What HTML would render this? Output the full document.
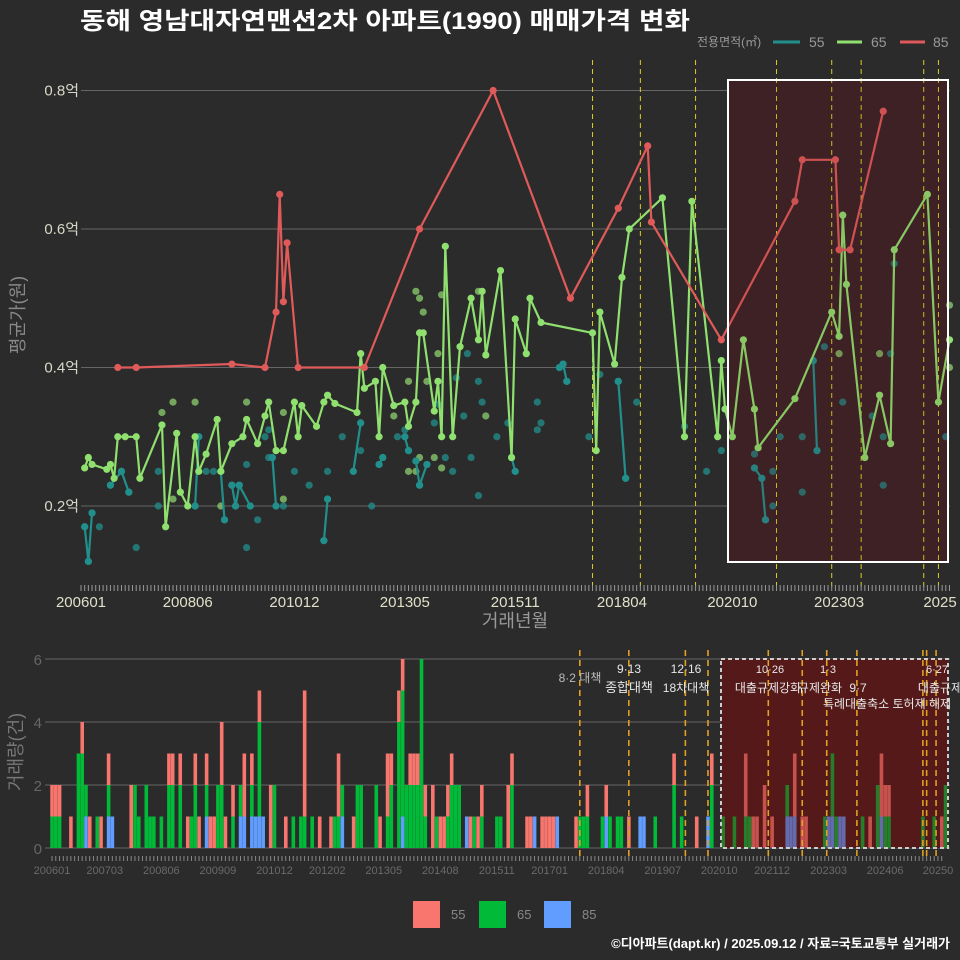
<!DOCTYPE html>
<html><head><meta charset="utf-8"><style>
html,body{margin:0;padding:0;background:#2b2b2b;}
svg{display:block;font-family:"Liberation Sans","Noto Sans CJK KR",sans-serif;}
</style></head><body>
<svg id="chart" width="960" height="960" viewBox="0 0 960 960" xmlns="http://www.w3.org/2000/svg">
<rect x="0" y="0" width="960" height="960" fill="#2b2b2b"/>
<text x="80" y="29" fill="#ffffff" font-size="24" font-weight="bold" textLength="610" lengthAdjust="spacingAndGlyphs">동해 영남대자연맨션2차 아파트(1990) 매매가격 변화</text>
<g font-size="14">
<text x="697" y="46" fill="#999" font-size="12">전용면적(㎡)</text>
<line x1="773" y1="42" x2="800" y2="42" stroke="#21908c" stroke-width="3"/>
<text x="809" y="47" fill="#999">55</text>
<line x1="837" y1="42" x2="862" y2="42" stroke="#90e070" stroke-width="3"/>
<text x="871" y="47" fill="#999">65</text>
<line x1="900" y1="42" x2="925" y2="42" stroke="#e05a5a" stroke-width="3"/>
<text x="933" y="47" fill="#999">85</text>
</g>
<g id="topg"></g>
<g id="botg"></g>
<g font-size="13">
<rect x="413" y="901" width="27" height="27" fill="#f8766d"/>
<text x="451" y="919" fill="#888">55</text>
<rect x="479" y="901" width="27" height="27" fill="#00ba38"/>
<text x="517" y="919" fill="#888">65</text>
<rect x="544" y="901" width="27" height="27" fill="#619cff"/>
<text x="582" y="919" fill="#888">85</text>
</g>
<text x="950" y="948" text-anchor="end" fill="#ffffff" font-size="13" font-weight="bold">©디아파트(dapt.kr) / 2025.09.12 / 자료=국토교통부 실거래가</text>
</svg>
<script>
const redMonths=[10,15,41,50,53,54,55,56,59,77,92,112,133,146,154,155,174,194,196,205,206,209,218];
const redVals=[0.40,0.40,0.405,0.40,0.48,0.65,0.495,0.58,0.40,0.40,0.60,0.80,0.50,0.63,0.72,0.61,0.44,0.64,0.70,0.70,0.57,0.57,0.77];
const greenMonths=[1,2,3,7,8,9,10,12,15,16,22,23,26,27,29,31,32,34,37,38,41,44,45,48,50,51,53,55,58,59,60,64,66,67,69,75,76,77,80,81,82,85,88,89,91,92,93,96,97,98,99,101,103,106,108,109,110,114,117,118,121,122,125,139,140,141,145,147,149,158,164,166,173,174,175,177,180,183,184,194,204,206,207,208,213,217,220,221,230,233,236];
const greenVals=[.255,.27,.26,.253,.26,.24,.30,.30,.30,.24,.317,.17,.305,.22,.20,.30,.25,.275,.325,.25,.29,.30,.325,.29,.33,.35,.28,.28,.35,.30,.345,.315,.35,.36,.348,.335,.42,.37,.38,.30,.40,.345,.35,.315,.35,.45,.45,.337,.38,.30,.575,.30,.43,.50,.44,.51,.418,.54,.27,.47,.42,.50,.465,.45,.28,.48,.405,.53,.60,.645,.30,.64,.30,.41,.34,.30,.44,.34,.284,.355,.48,.445,.62,.52,.27,.36,.29,.57,.65,.35,.44];
const greenDotMonths=[22,25,25,31,38,45,55,55,85,89,89,91,92,93,91,92,94,96,98,97,98,108,110,217,206,236,236];
const greenDotVals=[.335,.35,.21,.35,.20,.35,.335,.21,.33,.38,.25,.51,.50,.48,.25,.27,.38,.27,.255,.42,.505,.51,.33,.42,.42,.49,.40];
const tealLineMonths=[1,2,3,null,8,11,13,null,31,32,null,38,39,null,41,42,43,46,null,52,53,null,66,67,null,74,76,null,81,82,null,88,89,null,91,92,94,null,117,118,null,130,131,132,null,146,148,null,183,185,186,null,199,200];
const tealLineVals=[.17,.12,.19,null,.23,.25,.22,null,.20,.30,null,.25,.18,null,.23,.20,.23,.20,null,.27,.20,null,.15,.21,null,.25,.32,null,.26,.27,null,.30,.28,null,.265,.23,.26,null,.27,.25,null,.40,.405,.38,null,.38,.24,null,.255,.24,.18,null,.41,.28];
const tealDotMonths=[1,2,3,5,8,11,13,15,21,21,31,32,34,36,38,39,41,42,43,46,45,45,48,50,51,51,52,53,55,58,62,66,67,67,71,74,76,76,79,81,82,86,88,88,89,91,92,94,96,97,99,101,102,104,105,106,108,108,109,113,116,117,118,124,124,125,130,131,132,138,141,146,148,151,164,170,174,183,183,185,186,188,188,190,196,196,199,200,202,207,215,218,218,220,221,235];
const tealDotVals=[.17,.12,.19,.17,.23,.25,.22,.14,.25,.20,.20,.30,.25,.25,.25,.18,.23,.20,.23,.20,.26,.14,.18,.30,.31,.27,.27,.20,.20,.25,.23,.15,.21,.25,.30,.25,.32,.28,.20,.26,.27,.30,.31,.30,.28,.265,.23,.26,.32,.347,.27,.25,.385,.33,.42,.27,.215,.38,.35,.30,.32,.27,.25,.35,.31,.32,.40,.405,.38,.30,.39,.38,.24,.35,.315,.25,.28,.275,.255,.24,.18,.25,.20,.30,.30,.22,.41,.28,.43,.35,.33,.23,.30,.42,.55,.30];
const priceTicks=[0.2,0.4,0.6,0.8];
const priceTickLabels=["0.2억","0.4억","0.6억","0.8억"];
const topXLabelMonths=[0,29,58,88,118,147,177,206,235];
const topXLabels=["200601","200806","201012","201305","201511","201804","202010","202303","2025"];
const topPolicyMonths=[139,152,167,189,204,212,229,233];
const barMonths=[0,1,2,5,7,8,9,10,12,13,15,16,21,22,23,25,26,27,29,31,32,34,36,37,38,39,41,42,43,44,45,46,48,50,51,53,54,55,56,58,59,62,64,66,67,69,71,74,75,76,77,80,81,82,86,87,89,90,92,93,94,95,96,97,98,99,101,102,103,104,105,106,107,108,110,111,112,113,114,118,119,121,122,126,127,128,130,131,132,133,134,139,140,141,142,146,147,148,150,151,153,156,157,160,165,167,171,174,175,178,181,184,185,186,187,189,191,195,196,197,199,200,205,206,207,208,209,210,215,217,219,220,221,222,231,234,236,237];
const n65=[1,1,1,0,3,3,1,0,1,0,1,0,0,2,1,2,1,1,1,2,2,2,0,1,2,0,1,0,0,2,2,0,1,1,0,1,0,3,0,0,2,0,1,1,1,1,0,0,1,1,1,0,2,2,2,0,1,2,4,4,2,2,2,2,6,1,0,1,0,0,1,2,2,2,0,0,1,0,1,1,1,0,2,0,0,0,0,0,0,0,0,0,1,1,1,1,0,1,1,1,0,0,0,1,2,1,0,0,2,1,1,1,1,0,0,0,0,1,0,0,0,0,1,0,2,1,0,0,1,0,2,0,1,1,1,1,0,2];
const n55=[1,1,1,1,0,1,0,1,0,1,1,0,2,0,0,0,0,0,0,1,1,1,1,0,1,1,1,1,1,0,2,1,1,0,2,1,0,1,0,2,0,1,0,0,4,0,1,1,0,2,0,1,0,0,0,1,2,1,1,1,0,1,1,1,0,1,2,0,1,1,1,1,0,0,0,1,0,1,1,0,0,2,1,1,1,0,1,1,1,1,0,1,0,0,1,0,1,0,0,0,1,0,0,0,1,0,1,0,1,0,0,2,0,1,1,2,1,0,0,2,1,1,0,0,0,0,0,0,0,1,0,2,1,1,0,0,1,0];
const n85=[0,0,0,0,0,0,1,0,0,0,1,1,0,0,0,0,0,0,0,0,0,0,0,0,0,0,1,0,0,0,0,0,0,1,1,1,1,1,1,0,0,0,0,0,0,0,0,0,0,0,1,0,0,0,0,0,0,0,0,1,0,0,0,0,0,0,0,0,0,0,0,0,0,0,1,0,0,0,0,0,0,0,0,0,0,1,0,0,0,0,1,0,0,0,0,0,1,0,0,0,0,1,1,0,0,0,0,1,0,0,0,0,0,0,0,0,0,1,1,1,0,0,0,1,1,0,1,1,0,0,0,1,0,0,0,0,0,0];
const volTicks=[0,2,4,6];
const botXLabelMonths=[0,14,29,44,59,73,88,103,118,132,147,162,177,191,206,221,236];
const botXLabels=["200601","200703","200806","200909","201012","201202","201305","201408","201511","201701","201804","201907","202010","202112","202303","202406","20250"];
const botPolicyMonths=[140,153,168,174,190,199,205.5,213.5,231,232,234.5];

const NS="http://www.w3.org/2000/svg";
function mk(tag,attrs,parent,txt){const e=document.createElementNS(NS,tag);for(const k in attrs)e.setAttribute(k,attrs[k]);if(txt!=null)e.textContent=txt;parent.appendChild(e);return e;}
const xT=m=>81+m*3.68, yT=v=>506-(v-0.2)*692.5;
const xB=m=>52+m*3.77, yB=n=>848-n*31.5;
const topG=document.getElementById('topg'), botG=document.getElementById('botg');

priceTicks.forEach((t,i)=>{
  let g=mk('line',{x1:81,x2:950,y1:yT(t),y2:yT(t),stroke:'#666','stroke-width':1},topG);
  
  
  let l=mk('text',{x:79,y:yT(t)+5,'text-anchor':'end',fill:'#d8d8c8','font-size':15},topG,priceTickLabels[i]);
  
  
});
let hr=mk('rect',{x:728,y:80,width:220,height:482,fill:'#3a2326',stroke:'none'},topG);


topPolicyMonths.forEach(m=>{
  let l=mk('line',{x1:xT(m),x2:xT(m),y1:60,y2:590,stroke:'#d8d020','stroke-width':1,'stroke-dasharray':'5,4'},topG);
  
  
});
function dots(ms,vs,col,name){ms.forEach((m,i)=>{
  let c=mk('circle',{cx:xT(m),cy:yT(vs[i]),r:3.6,fill:col,'fill-opacity':0.75},topG);
  
  
});}
dots(tealDotMonths,tealDotVals,'#21908c','point-55');
dots(greenDotMonths,greenDotVals,'#8fd070','point-65');
function line(ms,vs,col,name){
  let d='',pen=false;
  ms.forEach((m,i)=>{if(m==null){pen=false;return;}d+=(pen?'L':'M')+xT(m).toFixed(1)+','+yT(vs[i]).toFixed(1);pen=true;});
  let p=mk('path',{d:d,fill:'none',stroke:col,'stroke-width':2.2,'stroke-linejoin':'round'},topG);
  
  
  ms.forEach((m,i)=>{if(m==null)return;
    let c=mk('circle',{cx:xT(m),cy:yT(vs[i]),r:3.6,fill:col},topG);
    
    
  });
}
line(tealLineMonths,tealLineVals,'#21908c','line-55');
line(greenMonths,greenVals,'#90e070','line-65');
line(redMonths,redVals,'#e05a5a','line-85');
let ov=mk('rect',{x:728,y:80,width:220,height:482,fill:'#5a1a1a','fill-opacity':0.12,stroke:'#ffffff','stroke-width':2},topG);


for(let m=0;m<=236;m++){
  let t=mk('line',{x1:xT(m),x2:xT(m),y1:585,y2:591,stroke:'#999','stroke-width':1},topG);
  
  
}
topXLabelMonths.forEach((m,i)=>{
  let l=mk('text',{x:Math.min(xT(m),940),y:607,'text-anchor':'middle',fill:'#e0e0c8','font-size':15},topG,topXLabels[i]);
  
  
});
let xt=mk('text',{x:515,y:627,'text-anchor':'middle',fill:'#999','font-size':18},topG,'거래년월');


let yt=mk('text',{x:0,y:0,'text-anchor':'middle',fill:'#888','font-size':18,transform:'translate(24,315) rotate(-90)'},topG,'평균가(원)');



volTicks.forEach(t=>{
  let g=mk('line',{x1:45,x2:950,y1:yB(t),y2:yB(t),stroke:'#666','stroke-width':1},botG);
  
  
  let l=mk('text',{x:42,y:yB(t)+6,'text-anchor':'end',fill:'#666','font-size':15},botG,String(t));
  
  
});
let bhr=mk('rect',{x:721,y:659,width:227,height:189,fill:'#4a1e1e'},botG);


barMonths.forEach((m,i)=>{
  const x=xB(m)-1.75;let base=0;
  [[n85[i],'#619cff','bar-85'],[n65[i],'#00ba38','bar-65'],[n55[i],'#f8766d','bar-55']].forEach(s=>{
    if(!s[0])return;
    let r=mk('rect',{x:x,width:3.6,y:yB(base+s[0]),height:s[0]*31.5,fill:s[1]},botG);
    
    
    base+=s[0];
  });
});
let bov=mk('rect',{x:721,y:659,width:227,height:189,fill:'#6a1010','fill-opacity':0.35,stroke:'#cccccc','stroke-width':2,'stroke-dasharray':'4,3'},botG);


botPolicyMonths.forEach(m=>{
  let l=mk('line',{x1:xB(m),x2:xB(m),y1:650,y2:858,stroke:'#e0a020','stroke-width':1.6,'stroke-dasharray':'6,4'},botG);
  
  
});
for(let m=0;m<=236;m++){
  let t=mk('line',{x1:xB(m),x2:xB(m),y1:856,y2:861,stroke:'#888','stroke-width':1},botG);
  
  
}
botXLabelMonths.forEach((m,i)=>{
  let l=mk('text',{x:Math.min(xB(m),938),y:874,'text-anchor':'middle',fill:'#6a6a6a','font-size':11},botG,botXLabels[i]);
  
  
});
let byt=mk('text',{x:0,y:0,'text-anchor':'middle',fill:'#777','font-size':18,transform:'translate(22,752) rotate(-90)'},botG,'거래량(건)');


const annTexts=["8·2 대책","9·13","종합대책","12·16","18차대책","10·26","대출규제강화","1·3","규제완화","9·7","특례대출축소 토허제 해제","6·27","대출규제"];
const annX=[580,629,629,686,686,770,768,828,820,858,887,937,940];
const annY=[682,673,692,673,692,673,692,673,692,692,708,673,692];
const annSize=[12,12,13,12,12,11,12,11,12,12,12,11,12];
annTexts.forEach((t,i)=>{
  let a=mk('text',{x:annX[i],y:annY[i],'text-anchor':'middle',fill:i==0?'#bbb':'#e8e8e8','font-size':annSize[i]},botG,t);
  
  
});
</script>
</body></html>
